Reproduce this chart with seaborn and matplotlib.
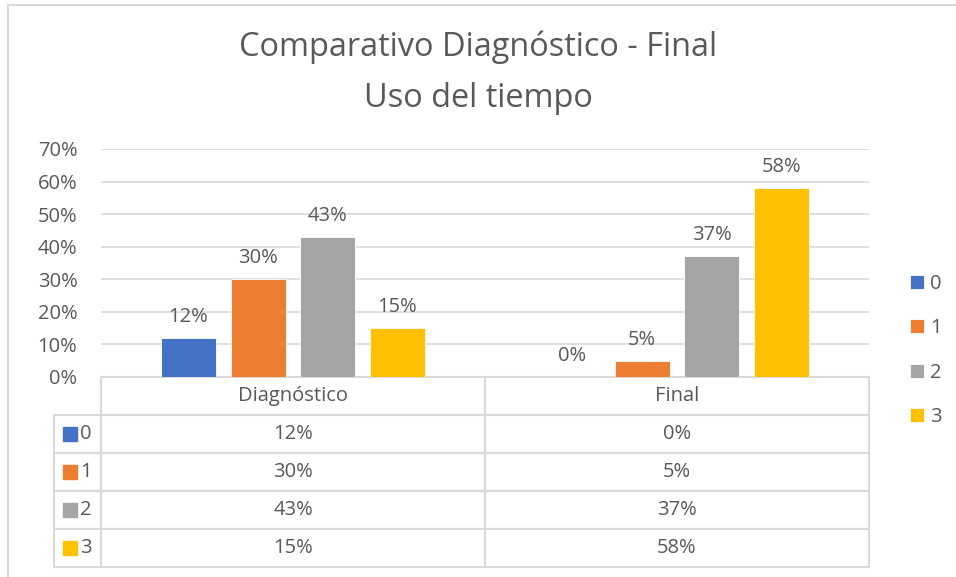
import pandas as pd
import matplotlib.pyplot as plt
import seaborn as sns
from matplotlib.patches import Rectangle
from matplotlib.ticker import PercentFormatter

# data
stages = ["Diagnóstico", "Final"]
levels = ["0", "1", "2", "3"]
diagnostico = [0.12, 0.30, 0.43, 0.15]
final = [0.00, 0.05, 0.37, 0.58]
colors = ["#4472C4", "#ED7D31", "#A5A5A5", "#FFC000"]
title = "Comparativo Diagnóstico - Final\nUso del tiempo"

TXT = "#595959"
GRID = "#D9D9D9"
FS = 14.5

sns.set_style("white")
plt.rcParams["font.family"] = ["Open Sans", "DejaVu Sans"]

df = pd.DataFrame({
    "stage": [s for s in stages for _ in levels],
    "level": levels * len(stages),
    "value": diagnostico + final,
})

W, H = 956, 577
fig = plt.figure(figsize=(W / 100, H / 100), dpi=100)
ax = fig.add_axes([101 / W, 1 - 377 / H, 768 / W, 228 / H])

sns.barplot(data=df, x="stage", y="value", hue="level", order=stages,
            hue_order=levels, palette=colors, saturation=1, width=0.726,
            gap=0.21, edgecolor="white", linewidth=0.6, ax=ax)

for cont in ax.containers:
    ax.bar_label(cont, labels=[f"{v * 100:.0f}%" for v in cont.datavalues],
                 padding=8, fontsize=FS, color=TXT)

ax.set_xlim(-0.5, 1.5)
ax.set_ylim(0, 0.7)
ax.set_yticks([i / 10 for i in range(8)])
ax.yaxis.set_major_formatter(PercentFormatter(1, decimals=0))
ax.tick_params(axis="y", length=0, pad=17, labelsize=FS, labelcolor=TXT)
ax.set_xticks([])
ax.set_xlabel("")
ax.set_ylabel("")
ax.grid(axis="y", color=GRID, linewidth=1.2)
ax.set_axisbelow(True)
sns.despine(ax=ax, left=True, bottom=True)

# legend on the right
handles, labs = ax.get_legend_handles_labels()
ax.legend(handles, labs, loc="center left", bbox_to_anchor=(1.03, 0.116),
          frameon=False, fontsize=FS, labelcolor=TXT, handlelength=0.7,
          handleheight=0.7, handletextpad=0.3, labelspacing=1.22)

# data table under the axis: first column holds the series keys
lw = 47 / 768
cell_text = [[l, f"{d * 100:.0f}%", f"{f * 100:.0f}%"]
             for l, d, f in zip(levels, diagnostico, final)]
tbl = ax.table(cellText=cell_text, colLabels=[""] + stages,
               colWidths=[lw, 0.5, 0.5], cellLoc="center",
               bbox=[-lw, -190 / 228, 1 + lw, 190 / 228])
tbl.auto_set_font_size(False)
tbl.set_fontsize(FS)
for (r, c), cell in tbl.get_celld().items():
    cell.set_edgecolor(GRID)
    cell.set_linewidth(1.5)
    cell.get_text().set_color(TXT)
    if c == 0:
        cell.get_text().set_ha("left")
        cell.PAD = 0.56
tbl[0, 0].visible_edges = ""

# colour keys in the first column
row_h = 190 / 228 / 5
for i, col in enumerate(colors):
    yc = -row_h * (i + 1.5)
    ax.add_patch(Rectangle((-38 / 768, yc - 7 / 228), 14 / 768, 14 / 228,
                           transform=ax.transAxes, color=col, clip_on=False,
                           zorder=5))

fig.text(0.5, 1 - 72.5 / H, title, ha="center", va="center", fontsize=23.4,
         color=TXT, linespacing=1.7)

# chart border
fig.patches.append(Rectangle((8 / W, -0.1), 1.1, 1 - 5 / H + 0.1,
                             transform=fig.transFigure, fill=False,
                             edgecolor=GRID, linewidth=1.5))

fig.savefig("out.png", dpi=100)
